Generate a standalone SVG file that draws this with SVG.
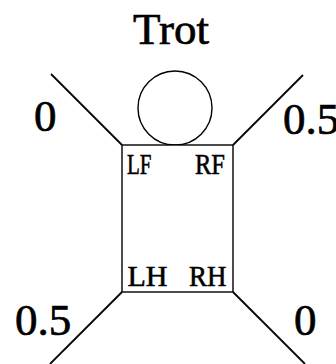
<svg xmlns="http://www.w3.org/2000/svg" width="336" height="364" viewBox="0 0 336 364">
  <style>
    .big { font-family: "Liberation Serif", "Times New Roman", serif; font-size: 45px; fill: #000; stroke: #000; stroke-width: 0.7; }
    .lbl { font-family: "Liberation Serif", "Times New Roman", serif; font-size: 30px; fill: #000; stroke: #000; stroke-width: 0.6; }
    .leg { stroke: #000; stroke-width: 1.8; fill: none; stroke-linecap: butt; }
    .body { stroke: #000; stroke-width: 1.4; fill: #fff; }
  </style>
  <rect width="336" height="364" fill="#fff"/>

  <text class="big" x="171" y="44" text-anchor="middle">Trot</text>

  <!-- legs -->
  <g id="connectors">
    <line class="leg" x1="122" y1="145" x2="51" y2="74"/>
    <line class="leg" x1="233" y1="145" x2="303" y2="75"/>
    <line class="leg" x1="122" y1="292" x2="50" y2="364"/>
    <line class="leg" x1="233" y1="292" x2="305" y2="364"/>
  </g>

  <!-- head -->
  <g id="head">
    <circle class="body" cx="175" cy="108" r="37"/>
  </g>

  <!-- body with foot labels -->
  <g id="body">
    <rect class="body" x="122" y="145" width="111" height="147"/>
    <text class="lbl" x="127" y="173.5" textLength="24.5" lengthAdjust="spacingAndGlyphs">LF</text>
    <text class="lbl" x="195" y="173.5" textLength="30" lengthAdjust="spacingAndGlyphs">RF</text>
    <text class="lbl" x="127.5" y="285.5" textLength="40" lengthAdjust="spacingAndGlyphs">LH</text>
    <text class="lbl" x="189" y="285.5" textLength="37.5" lengthAdjust="spacingAndGlyphs">RH</text>
  </g>

  <!-- phase values -->
  <g id="phase-lf"><text class="big" x="34" y="131">0</text></g>
  <g id="phase-rf"><text class="big" x="283" y="134">0.5</text></g>
  <g id="phase-lh"><text class="big" x="15" y="335">0.5</text></g>
  <g id="phase-rh"><text class="big" x="294" y="335">0</text></g>
</svg>
